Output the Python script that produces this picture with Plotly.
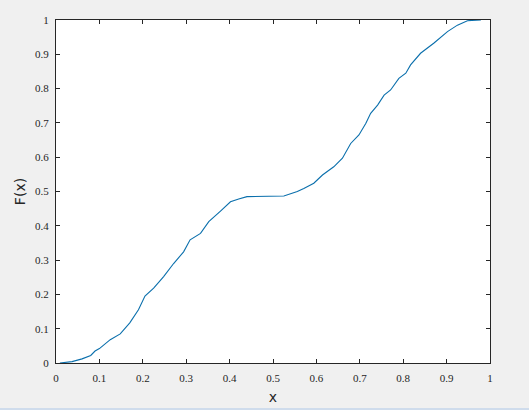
import plotly.graph_objects as go

x_vals = [0.009, 0.037, 0.06, 0.08, 0.09, 0.10, 0.125, 0.148, 0.17, 0.19,
          0.205, 0.225, 0.248, 0.271, 0.294, 0.309, 0.333, 0.352, 0.379, 0.402,
          0.421, 0.44, 0.525, 0.556, 0.571, 0.594, 0.614, 0.64, 0.66, 0.679,
          0.698, 0.714, 0.725, 0.741, 0.756, 0.771, 0.79, 0.806, 0.817, 0.84,
          0.871, 0.902, 0.925, 0.948, 0.979]
f_vals = [0.0, 0.004, 0.012, 0.022, 0.035, 0.042, 0.068, 0.085, 0.117, 0.155,
          0.195, 0.218, 0.252, 0.29, 0.324, 0.359, 0.378, 0.412, 0.443, 0.47,
          0.478, 0.485, 0.487, 0.5, 0.509, 0.524, 0.548, 0.572, 0.597, 0.64,
          0.665, 0.699, 0.728, 0.752, 0.781, 0.796, 0.83, 0.845, 0.869, 0.903,
          0.933, 0.966, 0.985, 0.998, 1.0]

tick_vals = [0, 0.1, 0.2, 0.3, 0.4, 0.5, 0.6, 0.7, 0.8, 0.9, 1]
tick_text = ["0", "0.1", "0.2", "0.3", "0.4", "0.5", "0.6", "0.7", "0.8", "0.9", "1"]

fig = go.Figure()
fig.add_trace(go.Scatter(x=x_vals, y=f_vals, mode="lines",
                         line=dict(color="#0a6fac", width=1.1),
                         showlegend=False, hoverinfo="skip"))

axis_common = dict(
    range=[0, 1], tickvals=tick_vals, ticktext=tick_text,
    ticks="inside", ticklen=4, tickwidth=1, tickcolor="#262626",
    showline=True, linecolor="#262626", linewidth=1, mirror="ticks",
    showgrid=False, zeroline=False, automargin=False,
    tickfont=dict(family="Liberation Serif, Times New Roman, serif", size=11, color="#262626"),
)

fig.update_layout(
    width=529, height=410,
    margin=dict(l=56, r=39, t=20, b=47, autoexpand=False),
    paper_bgcolor="#f0f0f0", plot_bgcolor="white",
    xaxis=dict(**axis_common,
               title=dict(text="x", font=dict(family="DejaVu Sans", size=14, color="#262626"), standoff=8),
               ticklabelstandoff=5),
    yaxis=dict(**axis_common,
               title=dict(text="F(x)", font=dict(family="DejaVu Sans", size=14, color="#262626"), standoff=6),
               ticklabelstandoff=4),
    shapes=[dict(type="rect", xref="paper", yref="paper",
                 x0=-0.2, x1=1.2, y0=-0.14, y1=-0.131,
                 fillcolor="#cfdcec", line=dict(width=0), layer="above")],
)

fig.write_html("out.html",
               config={"displayModeBar": False},
               post_script="document.body.style.margin='0';document.body.style.background='#f0f0f0';")
